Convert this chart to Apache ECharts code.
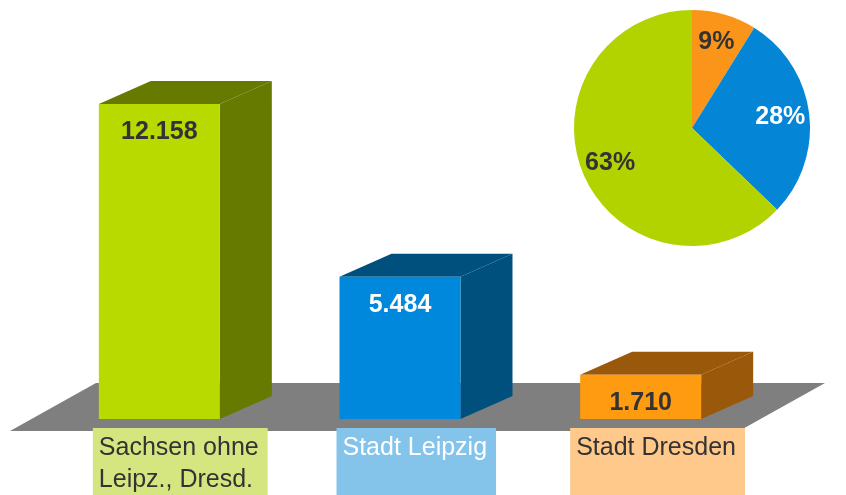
<!DOCTYPE html>
<html>
<head>
<meta charset="utf-8">
<script src="https://cdn.jsdelivr.net/npm/echarts@6/dist/echarts.min.js"></script>
<style>
  html, body { margin: 0; padding: 0; background: #fff; }
  #chart { width: 846px; height: 495px; }
</style>
</head>
<body>
<div id="chart"></div>
<script>
// data
var categories = ['Sachsen ohne\nLeipz., Dresd.', 'Stadt Leipzig', 'Stadt Dresden'];
var values = [12158, 5484, 1710];
var pieNames = ['Stadt Dresden', 'Stadt Leipzig', 'Sachsen ohne Leipz., Dresd.'];
var pieValues = [1710, 5484, 12158];

// styles
var frontColors = ['#b9da00', '#0089dc', '#ff9b10'];
var sideColors = ['#667a00', '#00507e', '#9a580a'];
var valueColors = ['#333333', '#ffffff', '#333333'];
var boxColors = ['#d5e680', '#84c3ea', '#fec98a'];
var boxTextColors = ['#333333', '#ffffff', '#333333'];
var boxShift = [-6, -3, -10];
var pieColors = ['#fb951a', '#0485d6', '#b2d300'];
var pieLabelColors = ['#333333', '#ffffff', '#333333'];
var FONT = '"Liberation Sans", Arial, sans-serif';

function fmtNum(v) {
	return String(v).replace(/\B(?=(\d{3})+(?!\d))/g, '.');
}

var chart = echarts.init(document.getElementById('chart'));

// 3d bar: front face + side + top, value label, category box
function renderBar(params, api) {
	var i = params.dataIndex;
	var top = api.coord([api.value(0), api.value(1)]);
	var base = api.coord([api.value(0), 0]);
	var w = 121, dx = 52, dy = -23;
	var x0 = top[0] - w / 2, x1 = x0 + w;
	return {
		type: 'group',
		children: [
			{
				type: 'polygon',
				shape: { points: [[x1, base[1]], [x1, top[1]], [x1 + dx, top[1] + dy], [x1 + dx, base[1] + dy]] },
				style: { fill: sideColors[i] }
			},
			{
				type: 'polygon',
				shape: { points: [[x0, top[1]], [x1, top[1]], [x1 + dx, top[1] + dy], [x0 + dx, top[1] + dy]] },
				style: { fill: sideColors[i] }
			},
			{
				type: 'rect',
				shape: { x: x0, y: top[1], width: w, height: base[1] - top[1] },
				style: { fill: frontColors[i] }
			},
			{
				type: 'text',
				x: top[0],
				y: top[1] + 28,
				style: {
					text: fmtNum(api.value(1)),
					font: 'bold 25px ' + FONT,
					fill: valueColors[i],
					align: 'center',
					verticalAlign: 'middle'
				}
			},
			{
				type: 'text',
				x: x0 + boxShift[i],
				y: base[1] + 9,
				style: {
					text: categories[i],
					font: '25px ' + FONT,
					fill: boxTextColors[i],
					align: 'left',
					verticalAlign: 'top',
					lineHeight: 32,
					height: 64,
					backgroundColor: boxColors[i],
					padding: [4, 9, 4, 6]
				}
			}
		]
	};
}

// gray floor under the bars
function renderFloor(params, api) {
	var cs = params.coordSys;
	var y0 = api.coord([0, 0])[1];
	return {
		type: 'polygon',
		shape: {
			points: [
				[cs.x - 29, y0 + 12],
				[cs.x + 700, y0 + 12],
				[cs.x + 786, y0 - 36],
				[cs.x + 57, y0 - 36]
			]
		},
		style: { fill: '#7f7f7f' }
	};
}

var pieData = pieValues.map(function(v, i) {
	return { name: pieNames[i], value: v, itemStyle: { color: pieColors[i] } };
});

chart.setOption({
	animation: false,
	grid: { left: 39, right: 85, top: 10, bottom: 76 },
	xAxis: {
		type: 'category',
		data: categories,
		show: false
	},
	yAxis: {
		type: 'value',
		min: 0,
		max: 15780,
		show: false
	},
	series: [
		{
			type: 'custom',
			silent: true,
			clip: false,
			data: [[0, 0]],
			renderItem: renderFloor,
			z: 1
		},
		{
			type: 'custom',
			silent: true,
			clip: false,
			data: values.map(function(v, i) { return [i, v]; }),
			encode: { x: 0, y: 1 },
			renderItem: renderBar,
			z: 2
		},
		{
			type: 'pie',
			silent: true,
			center: [692, 128],
			radius: [0, 118],
			startAngle: 90,
			clockwise: true,
			label: { show: false },
			labelLine: { show: false },
			data: pieData,
			z: 3
		},
		{
			// transparent ring only to place the percent labels
			type: 'pie',
			silent: true,
			center: [692, 128],
			radius: [54, 118],
			startAngle: 90,
			clockwise: true,
			itemStyle: { color: 'rgba(0,0,0,0)' },
			label: {
				show: true,
				position: 'inner',
				fontFamily: FONT,
				fontSize: 25,
				fontWeight: 'bold',
				formatter: function(p) {
					return Math.round(p.percent) + '%';
				},
				color: '#333'
			},
			labelLine: { show: false },
			data: pieValues.map(function(v, i) {
				return { name: pieNames[i], value: v, label: { color: pieLabelColors[i] } };
			}),
			z: 4
		}
	]
});
</script>
</body>
</html>
